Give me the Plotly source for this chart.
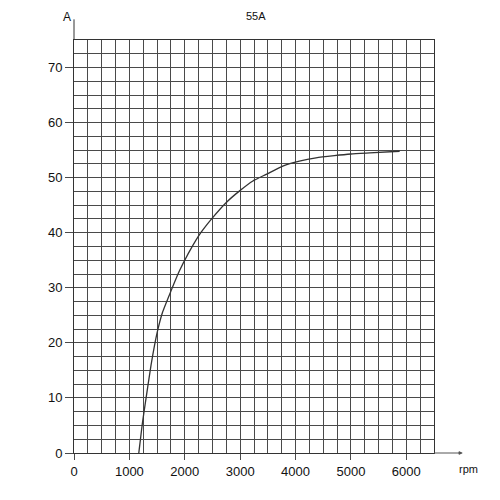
import plotly.graph_objects as go

# Data (alternator output current vs. speed)
rpm = [1170, 1240, 1330, 1400, 1500, 1600, 1750, 1900, 2090, 2290, 2500, 2750,
       2990, 3230, 3470, 3770, 4070, 4370, 4700, 5000, 5340, 5880]
amps = [0, 5.8, 11.9, 16.5, 21.8, 25.6, 29.4, 33.0, 36.7, 40.0, 42.7, 45.5,
        47.6, 49.4, 50.6, 52.1, 53.0, 53.6, 54.0, 54.3, 54.5, 54.8]

x_ticks = [0, 1000, 2000, 3000, 4000, 5000, 6000]
y_ticks = [0, 10, 20, 30, 40, 50, 60, 70]
title_text = "55A"
x_unit = "rpm"
y_unit = "A"

FONT = "Liberation Sans Narrow, Arial Narrow, Liberation Sans, Arial, sans-serif"
GRID = "#4a4a4a"

fig = go.Figure()
fig.add_trace(go.Scatter(
    x=rpm, y=amps, mode="lines",
    line=dict(color="#333333", width=1.3, shape="spline", smoothing=0.5),
    showlegend=False, hoverinfo="skip",
))

fig.update_layout(
    width=500, height=500,
    margin=dict(l=66, r=74, t=32, b=55),
    paper_bgcolor="white", plot_bgcolor="white",
    font=dict(family=FONT, size=13, color="#111111"),
    showlegend=False,
)

fig.update_xaxes(
    range=[0, 6500], tickmode="array", tickvals=x_ticks,
    ticktext=[str(v) for v in x_ticks],
    showgrid=True, gridcolor=GRID, gridwidth=1,
    minor=dict(dtick=250, tick0=0, showgrid=True, gridcolor=GRID, gridwidth=1),
    ticks="outside", ticklen=6, tickcolor=GRID, tickwidth=1,
    showline=True, linecolor="#333333", linewidth=1, mirror=True,
    zeroline=False, tickfont=dict(size=13, family=FONT),
)
fig.update_yaxes(
    range=[0, 75], tickmode="array", tickvals=y_ticks,
    ticktext=[str(v) for v in y_ticks],
    showgrid=True, gridcolor=GRID, gridwidth=1,
    minor=dict(dtick=2.5, tick0=0, showgrid=True, gridcolor=GRID, gridwidth=1),
    ticks="outside", ticklen=8, tickcolor=GRID, tickwidth=1,
    showline=True, linecolor="#333333", linewidth=1, mirror=True,
    zeroline=False, tickfont=dict(size=13, family=FONT),
)

# axis extensions (arrows) beyond the plot frame
fig.add_shape(type="line", xref="paper", yref="paper", x0=0, x1=0, y0=1, y1=1.05,
              line=dict(color="#333333", width=1))
fig.add_shape(type="line", xref="paper", yref="paper", x0=1, x1=1.075, y0=0, y1=0,
              line=dict(color="#555555", width=1))
fig.add_annotation(xref="paper", yref="paper", x=1.08, y=0, ax=-6, ay=0,
                   showarrow=True, arrowhead=2, arrowsize=0.8, arrowwidth=1,
                   arrowcolor="#555555", text="")

fig.add_annotation(xref="paper", yref="paper", x=-0.004, y=1.055, text=y_unit,
                   showarrow=False, xanchor="right", yanchor="middle",
                   font=dict(size=12, family=FONT, color="#111111"))
fig.add_annotation(xref="paper", yref="paper", x=1.065, y=-0.038, text=x_unit,
                   showarrow=False, xanchor="left", yanchor="middle",
                   font=dict(size=11, family=FONT, color="#111111"))
fig.add_annotation(xref="paper", yref="paper", x=0.505, y=1.058, text=title_text,
                   showarrow=False, xanchor="center", yanchor="middle",
                   font=dict(size=11, family=FONT, color="#111111"))

fig.write_html("out.html")
